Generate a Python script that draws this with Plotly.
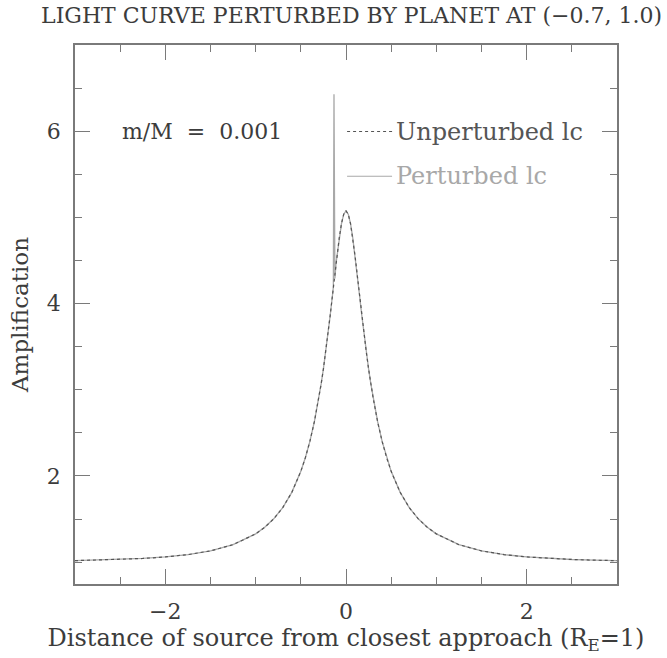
import plotly.graph_objects as go

# Distance of the source from closest approach (Einstein radii)
x_vals = [-3.0, -2.75, -2.5, -2.25, -2.0, -1.75, -1.5, -1.25, -1.0, -0.9, -0.8, -0.7,
          -0.6, -0.5, -0.45, -0.4, -0.35, -0.3, -0.275, -0.25, -0.225, -0.2, -0.175,
          -0.15, -0.125, -0.1, -0.075, -0.05, -0.025, 0.0,
          0.025, 0.05, 0.075, 0.1, 0.125, 0.15, 0.175, 0.2, 0.225, 0.25, 0.275, 0.3,
          0.35, 0.4, 0.45, 0.5, 0.6, 0.7, 0.8, 0.9, 1.0, 1.25, 1.5, 1.75, 2.0,
          2.25, 2.5, 2.75, 3.0]

# Point-lens amplification without the planet
amp_unperturbed = [1.0168, 1.0224, 1.0305, 1.0422, 1.0598, 1.0870, 1.1304, 1.2023,
                   1.3278, 1.4037, 1.5023, 1.6328, 1.8091, 2.0531, 2.2109, 2.4004,
                   2.6294, 2.9069, 3.0669, 3.2422, 3.4337, 3.6407, 3.8618,
                   4.0932, 4.3279, 4.5556, 4.7613, 4.9276, 5.0367, 5.0747,
                   5.0367, 4.9276, 4.7613, 4.5556, 4.3279, 4.0932, 3.8618, 3.6407,
                   3.4337, 3.2422, 3.0669, 2.9069, 2.6294, 2.4004, 2.2109, 2.0531,
                   1.8091, 1.6328, 1.5023, 1.4037, 1.3278, 1.2023, 1.1304, 1.0870,
                   1.0598, 1.0422, 1.0305, 1.0224, 1.0168]

# Planetary caustic crossing on the rising side of the event
spike_x = [-0.14, -0.133, -0.123, -0.11]
spike_amp = [4.19, 6.43, 4.29, 4.47]

x_ticks = [-2, 0, 2]
y_ticks = [2, 4, 6]

# Perturbed curve: unperturbed points outside the caustic window, spike points inside
pert = [(x, a) for x, a in zip(x_vals, amp_unperturbed) if not (-0.14 <= x <= -0.11)]
pert += list(zip(spike_x, spike_amp))
pert.sort()
pert_x = [p[0] for p in pert]
pert_amp = [p[1] for p in pert]

FONT = "DejaVu Serif"
FRAME = "#7a7a7a"
TEXT = "#3c3c3c"
DARK = "#555555"
LIGHT = "#a8a8a8"

fig = go.Figure()
fig.add_trace(go.Scatter(x=pert_x, y=pert_amp, mode="lines",
                         line=dict(color=LIGHT, width=1.3), name="Perturbed lc",
                         showlegend=False))
fig.add_trace(go.Scatter(x=x_vals, y=amp_unperturbed, mode="lines",
                         line=dict(color=DARK, width=1.2, dash="dot"),
                         name="Unperturbed lc", showlegend=False))

axis_common = dict(
    showgrid=False, zeroline=False, showline=True, linecolor=FRAME, linewidth=1.5,
    mirror="ticks", ticks="inside", ticklen=15, tickwidth=1.3, tickcolor=FRAME,
    tickfont=dict(family=FONT, size=22, color=TEXT),
    minor=dict(ticks="inside", ticklen=7, tickwidth=1.2, tickcolor=FRAME, dtick=0.5),
)

fig.update_xaxes(range=[-3, 3], tickvals=x_ticks, ticktext=["\u22122", "0", "2"],
                 ticklabelstandoff=7,
                 title=dict(text="Distance of source from closest approach (R<sub>E</sub>=1)",
                            font=dict(family=FONT, size=24, color=TEXT), standoff=5),
                 **axis_common)
fig.update_yaxes(range=[0.746, 7.0], tickvals=y_ticks, ticktext=["2", "4", "6"],
                 ticklabelstandoff=8,
                 title=dict(text="Amplification",
                            font=dict(family=FONT, size=23, color=TEXT), standoff=12),
                 **axis_common)

# Legend rows drawn by hand: sample line followed by the label
legend_rows = [("Unperturbed lc", DARK, "dot", 0.8395),
               ("Perturbed lc", LIGHT, "solid", 0.7565)]
for label, color, dash, yp in legend_rows:
    fig.add_shape(type="line", xref="paper", yref="paper", x0=0.502, x1=0.585,
                  y0=yp, y1=yp, line=dict(color=color, width=1.2, dash=dash))
    fig.add_annotation(text=label, xref="paper", yref="paper", x=0.588, y=yp,
                       xanchor="left", yanchor="middle", showarrow=False,
                       font=dict(family=FONT, size=24, color=color))

fig.add_annotation(text="m/M  =  0.001", xref="paper", yref="paper", x=0.234, y=0.8395,
                   xanchor="center", yanchor="middle", showarrow=False,
                   font=dict(family=FONT, size=22, color=TEXT))

fig.update_layout(
    width=667, height=658,
    margin=dict(l=75, r=50, t=45, b=71),
    paper_bgcolor="white", plot_bgcolor="white",
    title=dict(text="LIGHT CURVE PERTURBED BY PLANET AT (\u22120.7, 1.0)",
               xref="container", x=0.527, xanchor="center",
               yref="container", y=0.976, yanchor="middle",
               font=dict(family=FONT, size=22, color=TEXT)),
)

fig.write_html("out.html")
